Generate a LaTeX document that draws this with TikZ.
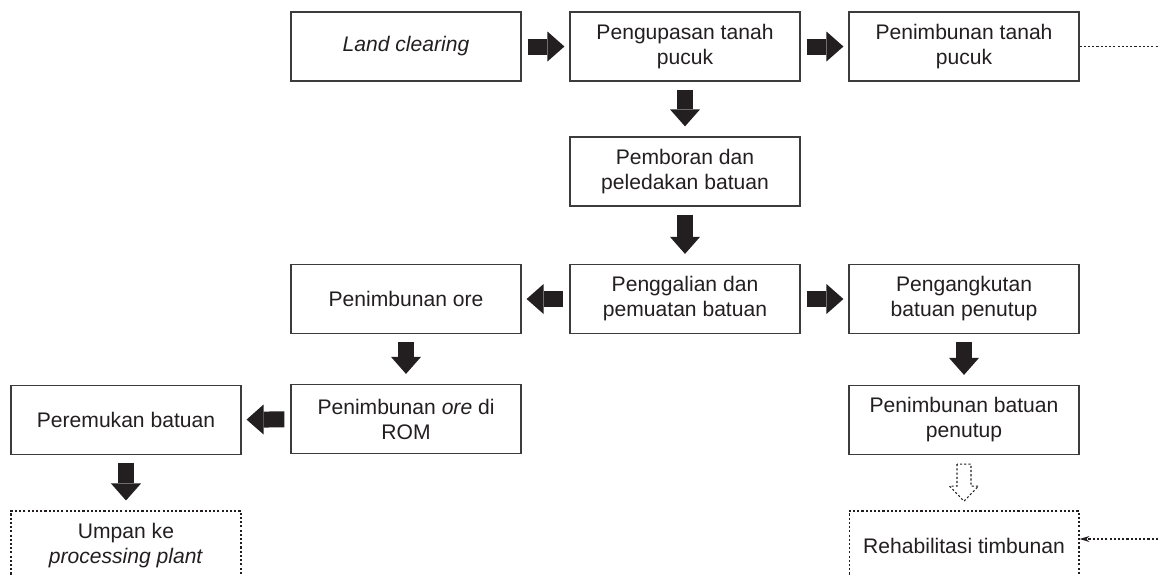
\documentclass[tikz,border=0pt]{standalone}
\usepackage{fontspec}
\setmainfont{Liberation Sans}
\usetikzlibrary{positioning,calc,arrows.meta}
\definecolor{tinta}{RGB}{35,31,32}
\definecolor{garis}{RGB}{60,60,60}

\begin{document}
\begin{tikzpicture}[x=0.02cm, y=-0.02cm,
    kotak/.style={draw=garis, line width=0.7pt, minimum width=4.6cm, minimum height=1.38cm,
      inner sep=0pt, align=center, text=tinta, font=\fontsize{12}{14.2}\selectfont},
    titik/.style={draw=tinta, line width=0.6pt, dash pattern=on 1.2pt off 1.2pt},
    kotaktitik/.style={kotak, titik},
    panah/.style={draw=tinta, line width=0.32cm,
      -{Triangle[length=0.34cm, width=0.6cm, line width=0pt]}},
    panahdatar/.style={panah, shorten <=0.12cm, shorten >=0.1cm},
    panahturun/.style={panah, shorten <=0.16cm, shorten >=0.2cm}]
      \useasboundingbox (0,0) rectangle (1158,575);

      \node[kotak] (land) at (406,46.5) {\textit{Land clearing}};
      \node[kotak] (kupas) at (685,46.5) {Pengupasan tanah\\pucuk};
      \node[kotak] (pucuk) at (964,46.5) {Penimbunan tanah\\pucuk};

      \node[kotak] (bor) at (685,171.5) {Pemboran dan\\peledakan batuan};

      \node[kotak] (gali) at (685,299) {Penggalian dan\\pemuatan batuan};
      \node[kotak] (ore) at (406,299) {Penimbunan ore};
      \node[kotak] (angkut) at (964,299) {Pengangkutan\\batuan penutup};

      \node[kotak] (rom) at (406,419) {Penimbunan \textit{ore} di\\ROM};
      \node[kotak] (remuk) at (126,420) {Peremukan batuan};
      \node[kotak] (tutup) at (964,420) {Penimbunan batuan\\penutup};

      \node[kotaktitik] (umpan) at (126,545.5) {Umpan ke\\\textit{processing plant}};
      \node[kotaktitik] (rehab) at (964,545.5) {Rehabilitasi timbunan};

      \draw[panahdatar] (land) -- (kupas);
      \draw[panahdatar] (kupas) -- (pucuk);
      \draw[panahturun] (kupas) -- (bor);
      \draw[panahturun] (bor) -- (gali);
      \draw[panahdatar] (gali) -- (ore);
      \draw[panahdatar] (gali) -- (angkut);
      \draw[panahturun] (ore) -- (rom);
      \draw[panahturun] (angkut) -- (tutup);
      \draw[panahdatar] (rom) -- (remuk);
      \draw[panahturun] (remuk) -- (umpan);

      \draw[titik] ($(tutup.south)+(-7,9)$) -- ++(0,22) -- ++(-7.5,0) -- ++(14.5,15)
        -- ++(14.5,-15) -- ++(-7.5,0) -- ++(0,-22) -- cycle;

      \coordinate (ujungatas) at (1158,46.5);
      \coordinate (ujungbawah) at (1158,539);
      \draw[titik] (pucuk) -- (ujungatas);
      \draw[titik, -{Stealth[length=0.2cm, width=0.12cm, line width=0pt]}]
        (ujungbawah) -- (rehab.east |- ujungbawah);

    \end{tikzpicture}
\end{document}
